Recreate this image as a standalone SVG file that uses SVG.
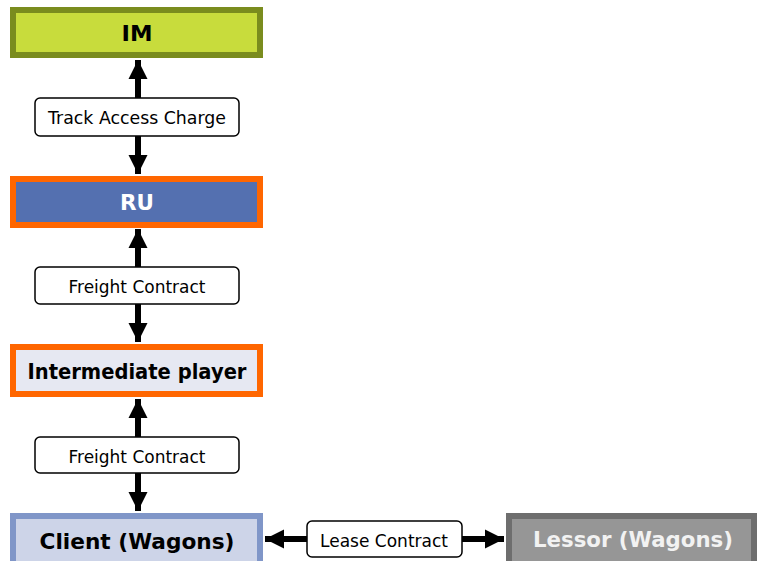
<svg xmlns="http://www.w3.org/2000/svg" width="757" height="561" viewBox="0 0 757 561">
<defs>
<style>
.node{stroke-width:6}
.nt{font-family:"DejaVu Sans","Liberation Sans",sans-serif;font-weight:bold;font-size:22px;text-anchor:middle;dominant-baseline:central}
.lb{fill:#fff;stroke:#000;stroke-width:1.5}
.lt{font-family:"DejaVu Sans","Liberation Sans",sans-serif;font-size:18px;text-anchor:middle;dominant-baseline:central;fill:#000}
.ln{stroke:#000;stroke-width:6;fill:none}
</style>
<marker id="ah" viewBox="0 0 10 10" refX="10" refY="5" markerWidth="3.2" markerHeight="3.2" orient="auto" markerUnits="strokeWidth">
<path d="M0,0 L10,5 L0,10 Z" fill="#000"/>
</marker>
</defs>
<rect width="757" height="561" fill="#fff"/>
<g id="connectors">
<line class="ln" x1="138" y1="98" x2="138" y2="60" marker-end="url(#ah)"/>
<line class="ln" x1="138" y1="136" x2="138" y2="174" marker-end="url(#ah)"/>
<line class="ln" x1="138" y1="267" x2="138" y2="229" marker-end="url(#ah)"/>
<line class="ln" x1="138" y1="304" x2="138" y2="342" marker-end="url(#ah)"/>
<line class="ln" x1="138" y1="437" x2="138" y2="399" marker-end="url(#ah)"/>
<line class="ln" x1="138" y1="473" x2="138" y2="511" marker-end="url(#ah)"/>
<line class="ln" x1="307" y1="539" x2="265" y2="539" marker-end="url(#ah)"/>
<line class="ln" x1="462" y1="539" x2="504" y2="539" marker-end="url(#ah)"/>
<g id="lbl-tac"><rect class="lb" x="35" y="98" width="204" height="38" rx="5"/><text class="lt" x="137" y="117" textLength="178" lengthAdjust="spacingAndGlyphs">Track Access Charge</text></g>
<g id="lbl-fc1"><rect class="lb" x="35" y="267" width="204" height="37" rx="5"/><text class="lt" x="137" y="286" textLength="137" lengthAdjust="spacingAndGlyphs">Freight Contract</text></g>
<g id="lbl-fc2"><rect class="lb" x="35" y="437" width="204" height="36" rx="5"/><text class="lt" x="137" y="456" textLength="137" lengthAdjust="spacingAndGlyphs">Freight Contract</text></g>
<g id="lbl-lc"><rect class="lb" x="307" y="521" width="155" height="36" rx="5"/><text class="lt" x="384" y="540" textLength="128" lengthAdjust="spacingAndGlyphs">Lease Contract</text></g>
</g>
<g id="im"><rect class="node" x="13" y="10" width="247" height="45" fill="#c8dc3c" stroke="#7a8c1e"/><text class="nt" x="137" y="33" fill="#000" textLength="31" lengthAdjust="spacingAndGlyphs">IM</text></g>
<g id="ru"><rect class="node" x="13" y="179" width="247" height="46" fill="#5470b0" stroke="#ff6600"/><text class="nt" x="137" y="202" fill="#fff" textLength="34" lengthAdjust="spacingAndGlyphs">RU</text></g>
<g id="intermediate"><rect class="node" x="13" y="347" width="247" height="47" fill="#e6e8f2" stroke="#ff6600"/><text class="nt" x="137" y="371" fill="#000" textLength="219" lengthAdjust="spacingAndGlyphs">Intermediate player</text></g>
<g id="client"><rect class="node" x="13" y="516" width="247" height="48" fill="#cdd4e8" stroke="#8096c8"/><text class="nt" x="137" y="541" fill="#000" textLength="195" lengthAdjust="spacingAndGlyphs">Client (Wagons)</text></g>
<g id="lessor"><rect class="node" x="509" y="516" width="245" height="48" fill="#969696" stroke="#6e6e6e"/><text class="nt" x="633" y="539" fill="#f2f2f2" textLength="200" lengthAdjust="spacingAndGlyphs">Lessor (Wagons)</text></g>
</svg>
